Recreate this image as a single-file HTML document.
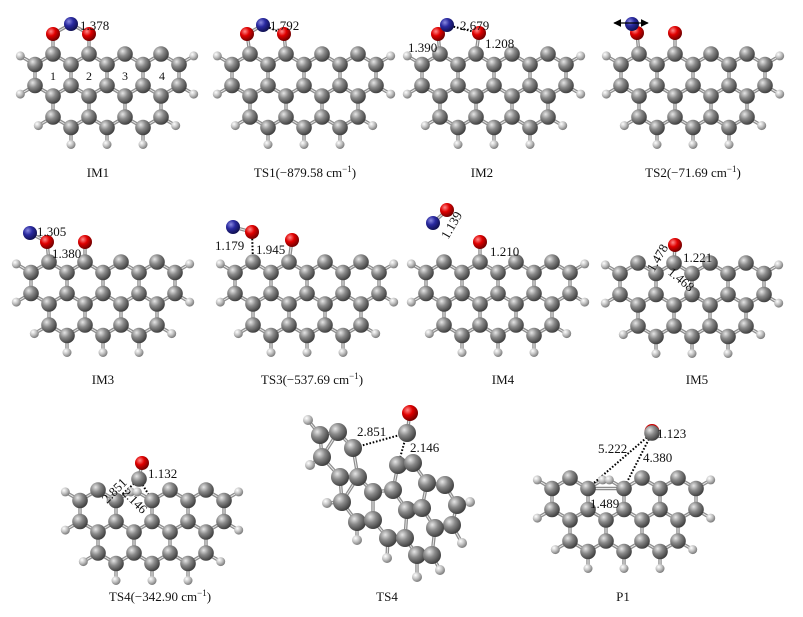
<!DOCTYPE html>
<html><head><meta charset="utf-8"><style>
html,body{margin:0;padding:0;background:#fff;}
svg{display:block;}
text{font-family:"Liberation Serif",serif;fill:#111;}
</style></head><body>
<svg id="s" width="803" height="617" viewBox="0 0 803 617" xmlns="http://www.w3.org/2000/svg">
<defs>
<radialGradient id="gC" cx="35%" cy="32%" r="70%"><stop offset="0" stop-color="#e6e6e6"/><stop offset="0.45" stop-color="#8a8a8a"/><stop offset="1" stop-color="#3e3e3e"/></radialGradient>
<radialGradient id="gH" cx="35%" cy="32%" r="70%"><stop offset="0" stop-color="#ffffff"/><stop offset="0.5" stop-color="#c4c4c4"/><stop offset="1" stop-color="#7a7a7a"/></radialGradient>
<radialGradient id="gO" cx="35%" cy="32%" r="70%"><stop offset="0" stop-color="#ff8a8a"/><stop offset="0.45" stop-color="#e00000"/><stop offset="1" stop-color="#700000"/></radialGradient>
<radialGradient id="gN" cx="35%" cy="32%" r="70%"><stop offset="0" stop-color="#8a8ae0"/><stop offset="0.45" stop-color="#2a2aa0"/><stop offset="1" stop-color="#101050"/></radialGradient>
<marker id="ah" viewBox="0 0 10 10" refX="9" refY="5" markerWidth="6" markerHeight="6" orient="auto-start-reverse"><path d="M0,0 L10,5 L0,10 z" fill="#000"/></marker>
</defs>
<g id="bonds"></g><g id="dots"></g><g id="atoms"></g><g id="labels">
<text x="98" y="177" font-size="13" text-anchor="middle">IM1</text>
<text x="305" y="177" font-size="13" text-anchor="middle">TS1(−879.58 cm<tspan dy="-5" font-size="9">−1</tspan><tspan dy="5">)</tspan></text>
<text x="482" y="177" font-size="13" text-anchor="middle">IM2</text>
<text x="693" y="177" font-size="13" text-anchor="middle">TS2(−71.69 cm<tspan dy="-5" font-size="9">−1</tspan><tspan dy="5">)</tspan></text>
<text x="103" y="384" font-size="13" text-anchor="middle">IM3</text>
<text x="312" y="384" font-size="13" text-anchor="middle">TS3(−537.69 cm<tspan dy="-5" font-size="9">−1</tspan><tspan dy="5">)</tspan></text>
<text x="503" y="384" font-size="13" text-anchor="middle">IM4</text>
<text x="697" y="384" font-size="13" text-anchor="middle">IM5</text>
<text x="160" y="601" font-size="13" text-anchor="middle">TS4(−342.90 cm<tspan dy="-5" font-size="9">−1</tspan><tspan dy="5">)</tspan></text>
<text x="387" y="601" font-size="13" text-anchor="middle">TS4</text>
<text x="623" y="601" font-size="13" text-anchor="middle">P1</text>

<text x="53" y="80" font-size="12" text-anchor="middle">1</text>
<text x="89" y="80" font-size="12" text-anchor="middle">2</text>
<text x="125" y="80" font-size="12" text-anchor="middle">3</text>
<text x="162" y="80" font-size="12" text-anchor="middle">4</text>
<text x="80" y="30" font-size="13">1.378</text>
<text x="270" y="30" font-size="13">1.792</text>
<text x="460" y="30" font-size="13">2.679</text>
<text x="408" y="52" font-size="13">1.390</text>
<text x="485" y="48" font-size="13">1.208</text>
<text x="37" y="236" font-size="13">1.305</text>
<text x="52" y="258" font-size="13">1.380</text>
<text x="215" y="250" font-size="13">1.179</text>
<text x="256" y="254" font-size="13">1.945</text>
<text x="441" y="236" font-size="13" transform="rotate(-60 448 232)">1.139</text>
<text x="490" y="256" font-size="13">1.210</text>
<text x="683" y="262" font-size="13">1.221</text>
<text x="642" y="268" font-size="13" transform="rotate(-60 652 260)">1.478</text>
<text x="664" y="278" font-size="13" transform="rotate(40 672 280)">1.468</text>
<text x="148" y="478" font-size="13">1.132</text>
<text x="100" y="497" font-size="13" transform="rotate(-45 112 492)">2.851</text>
<text x="120" y="503" font-size="13" transform="rotate(45 132 500)">2.146</text>
<text x="357" y="436" font-size="13">2.851</text>
<text x="410" y="452" font-size="13">2.146</text>
<text x="657" y="438" font-size="13">1.123</text>
<text x="598" y="453" font-size="13">5.222</text>
<text x="643" y="462" font-size="13">4.380</text>
<text x="590" y="508" font-size="13">1.489</text>
</g>
<line x1="614" y1="23" x2="648" y2="23" stroke="#000" stroke-width="1.3" marker-start="url(#ah)" marker-end="url(#ah)"/>
</svg>
<script>
var NS="http://www.w3.org/2000/svg";
var B=document.getElementById('bonds'),D=document.getElementById('dots'),A=document.getElementById('atoms');
function el(p,tag,at){var e=document.createElementNS(NS,tag);for(var k in at)e.setAttribute(k,at[k]);p.appendChild(e);return e;}
var allAtoms=[];
function bond(x1,y1,x2,y2){el(B,'line',{x1:x1,y1:y1,x2:x2,y2:y2,stroke:'#8c8c8c','stroke-width':3.4});el(B,'line',{x1:x1,y1:y1,x2:x2,y2:y2,stroke:'#e8e8e8','stroke-width':1});}
function dot(x1,y1,x2,y2){el(D,'line',{x1:x1,y1:y1,x2:x2,y2:y2,stroke:'#000','stroke-width':2,'stroke-dasharray':'1.6 1.8'});}
function atom(x,y,t,r){allAtoms.push([x,y,t,r]);}
function mol(X,Y,o){
  o=o||{};var pts=[];
  function add(x,y){for(var i=0;i<pts.length;i++){if(Math.abs(pts[i].x-x)<3&&Math.abs(pts[i].y-y)<3)return;}pts.push({x:x,y:y});}
  var cs=[];
  for(var i=0;i<4;i++)cs.push([X+36*i,Y+21]);
  for(var i=0;i<3;i++)cs.push([X+18+36*i,Y+52.5]);
  cs.forEach(function(c){var cx=c[0],cy=c[1];
    [[0,-21],[18,-10.5],[18,10.5],[0,21],[-18,10.5],[-18,-10.5]].forEach(function(d){add(cx+d[0],cy+d[1]);});});
  if(o.remove){pts=pts.filter(function(p){return !o.remove.some(function(r){return Math.abs(r[0]-p.x)<3&&Math.abs(r[1]-p.y)<3;});});}
  var nb=pts.map(function(){return [];});
  for(var i=0;i<pts.length;i++)for(var j=i+1;j<pts.length;j++){var dx=pts[i].x-pts[j].x,dy=pts[i].y-pts[j].y;if(Math.sqrt(dx*dx+dy*dy)<23){bond(pts[i].x,pts[i].y,pts[j].x,pts[j].y);nb[i].push(j);nb[j].push(i);}}
  pts.forEach(function(p,i){
    var top=Math.abs(p.y-Y)<2;
    if(nb[i].length==2&&!top){var ax=0,ay=0;nb[i].forEach(function(j){ax+=pts[j].x;ay+=pts[j].y;});ax/=2;ay/=2;
      var vx=p.x-ax,vy=p.y-ay,l=Math.sqrt(vx*vx+vy*vy);var hx=p.x+vx/l*17,hy=p.y+vy/l*17;bond(p.x,p.y,hx,hy);atom(hx,hy,'H');}
    atom(p.x,p.y,'C');});
  if(o.extra)o.extra.forEach(function(b){bond(b[0],b[1],b[2],b[3]);});
}
mol(53,54);bond(53,54,53,34);bond(89,54,89,34);bond(53,34,71,24);bond(71,24,89,34);atom(53,34,'O');atom(89,34,'O');atom(71,24,'N');
mol(250,54);bond(250,54,247,34);bond(286,54,284,34);bond(247,34,263,25);dot(263,25,284,34);atom(247,34,'O');atom(284,34,'O');atom(263,25,'N');
mol(440,54);bond(440,54,438,34);bond(476,54,479,33);bond(438,34,447,25);dot(447,25,479,33);atom(438,34,'O');atom(479,33,'O');atom(447,25,'N');
mol(639,54);bond(639,54,637,33);bond(675,54,675,33);bond(637,33,632,24);atom(637,33,'O');atom(675,33,'O');atom(632,24,'N');
mol(49,262);bond(49,262,47,242);bond(85,262,85,242);bond(47,242,30,233);atom(47,242,'O');atom(85,242,'O');atom(30,233,'N');
mol(253,262);bond(289,262,292,240);bond(233,227,252,232);dot(252,232,253,262);atom(252,232,'O');atom(292,240,'O');atom(233,227,'N');
mol(444,262);bond(480,262,480,242);atom(480,242,'O');bond(433,223,447,210);atom(433,223,'N');atom(447,210,'O');
mol(638,263);bond(674,263,675,245);atom(675,245,'O');
mol(98,490,{remove:[[134,490]]});bond(139,479,142,463);dot(139,479,116,500);dot(139,479,152,500);atom(142,463,'O');atom(139,479,'C');
mol(570,478,{remove:[[606,478]],extra:[[588,488.5,624,488.5]]});dot(652,433,588,488);dot(652,433,624,488);atom(652,433,'CO');
(function(){
 var C=[[320,435],[338,432],[322,457],[353,448],[340,477],[358,477],[342,502],[373,492],[357,522],[373,520],[393,490],[398,465],[413,463],[427,483],[445,485],[407,510],[422,508],[388,538],[405,538],[457,505],[452,525],[435,528],[417,555],[432,555]];
 var H=[[308,420,320,435],[310,465,322,457],[327,503,342,502],[357,540,357,522],[387,558,388,538],[417,577,417,555],[440,570,432,555],[462,543,452,525],[470,502,457,505]];
 for(var i=0;i<C.length;i++)for(var j=i+1;j<C.length;j++){var dx=C[i][0]-C[j][0],dy=C[i][1]-C[j][1];if(Math.sqrt(dx*dx+dy*dy)<31)bond(C[i][0],C[i][1],C[j][0],C[j][1]);}
 H.forEach(function(h){bond(h[0],h[1],h[2],h[3]);atom(h[0],h[1],'H',5);});
 C.forEach(function(c){atom(c[0],c[1],'C',9);});
 bond(407,433,410,413);dot(407,433,353,448);dot(407,433,398,465);atom(410,413,'O',8);atom(407,433,'C',9);
})();
allAtoms.forEach(function(a){var t=a[2];var r=a[3]||(t=='H'?4.5:(t=='C'||t=='CO'?7.8:7));
 var f=t=='H'?'gH':t=='O'?'gO':t=='N'?'gN':'gC';
 if(t=='CO')el(A,'circle',{cx:a[0],cy:a[1]-1.5,r:7.5,fill:'#c00'});
 el(A,'circle',{cx:a[0],cy:a[1],r:r,fill:'url(#'+f+')'});});
</script>
</body></html>
